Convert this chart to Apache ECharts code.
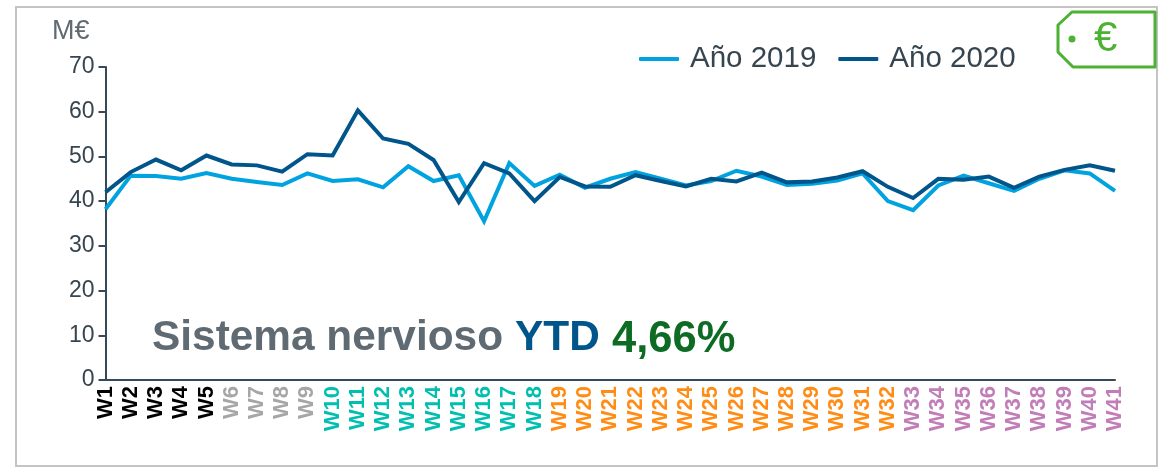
<!DOCTYPE html>
<html><head><meta charset="utf-8">
<style>html,body{margin:0;padding:0;background:#fff}#c{width:1165px;height:469px}</style>
<script src="https://cdn.jsdelivr.net/npm/echarts@6/dist/echarts.min.js"></script>
</head><body><div id="c"></div>
<script>
const categories = ['W1','W2','W3','W4','W5','W6','W7','W8','W9','W10','W11','W12','W13','W14','W15','W16','W17','W18','W19','W20','W21','W22','W23','W24','W25','W26','W27','W28','W29','W30','W31','W32','W33','W34','W35','W36','W37','W38','W39','W40','W41'];
const values2019 = [38.2,45.7,45.6,45,46.3,45,44.3,43.6,46.2,44.5,44.9,43.1,47.8,44.5,45.8,35.5,48.5,43.4,45.9,43,45,46.5,45,43.5,44.5,46.8,45.5,43.6,43.9,44.6,46.2,40,38,43.5,45.7,44,42.3,45,46.9,46.2,42.3];
const values2020 = [42,46.5,49.3,46.9,50.2,48.2,48,46.6,50.5,50.2,60.3,54,52.8,49.2,39.8,48.5,46.2,40,45.4,43.3,43.2,45.8,44.5,43.3,45,44.4,46.4,44.2,44.4,45.3,46.7,43.2,40.7,45,44.8,45.5,43,45.5,47,48,46.8];
const groupEnds = [5,9,18,32,41];
const groupColors = ['#000000','#A6A6A6','#00BFAE','#FF8C14','#C07DB8'];
const labelColor = i => groupColors[groupEnds.findIndex(e => i < e)];
const font = '"Liberation Sans", Arial, sans-serif';
const chart = echarts.init(document.getElementById('c'), null, {renderer:'canvas'});
chart.setOption({
  animation:false,
  backgroundColor:'#fff',
  grid:{left:105.5,right:50,top:67,bottom:89,containLabel:false},
  legend:{
    top:39,left:634,itemWidth:40,itemHeight:4,itemGap:22,icon:'roundRect',
    textStyle:{fontFamily:font,fontSize:29.5,color:'#36454F',padding:[0,0,0,6]},
    data:['Año 2019','Año 2020']
  },
  xAxis:{
    type:'category',data:categories,boundaryGap:false,
    axisLine:{show:true,lineStyle:{color:'#34495A',width:2}},
    axisTick:{show:false},
    axisLabel:{interval:0,rotate:90,margin:6,fontFamily:font,fontWeight:'bold',fontSize:22,
      color:(v,i)=>labelColor(i)}
  },
  yAxis:{
    type:'value',min:0,max:70,interval:10,
    splitLine:{show:false},
    axisLine:{show:true,lineStyle:{color:'#34495A',width:2}},
    axisTick:{show:true,length:7,lineStyle:{color:'#34495A',width:2}},
    axisLabel:{margin:11,fontFamily:font,fontSize:23,color:'#36454F'}
  },
  series:[
    {name:'Año 2019',type:'line',data:values2019,symbol:'none',z:2,
      lineStyle:{color:'#00A3E0',width:4,join:'miter'},itemStyle:{color:'#00A3E0'}},
    {name:'Año 2020',type:'line',data:values2020,symbol:'none',z:3,
      lineStyle:{color:'#00568A',width:4,join:'miter'},itemStyle:{color:'#00568A'}}
  ],
  graphic:[
    {type:'rect',silent:true,z:-1,shape:{x:16,y:7,width:1141,height:459},style:{fill:'none',stroke:'#C4C4C4',lineWidth:2}},
    {type:'text',left:52,top:18,style:{text:'M€',fontFamily:font,fontSize:27,fill:'#5F6A72'}},
    {type:'text',left:152,top:317,style:{text:'Sistema nervioso',fontFamily:font,fontWeight:'bold',fontSize:42.4,fill:'#5F6A72'}},
    {type:'text',left:515,top:317,style:{text:'YTD',fontFamily:font,fontWeight:'bold',fontSize:42.4,fill:'#00568A'}},
    {type:'text',left:612,top:318,style:{text:'4,66%',fontFamily:font,fontWeight:'bold',fontSize:43.5,fill:'#0E6B24'}},
    {type:'polygon',silent:true,shape:{points:[[1072,12],[1155,12],[1155,67],[1073,67],[1058,52],[1058,25]]},style:{fill:'#fff',stroke:'#4DB233',lineWidth:3,lineJoin:'round'}},
    {type:'circle',silent:true,shape:{cx:1072,cy:39,r:3.5},style:{fill:'#4DB233'}},
    {type:'text',left:1094,top:18,style:{text:'€',fontFamily:font,fontSize:42,fill:'#4DB233'}}
  ]
});
</script></body></html>
